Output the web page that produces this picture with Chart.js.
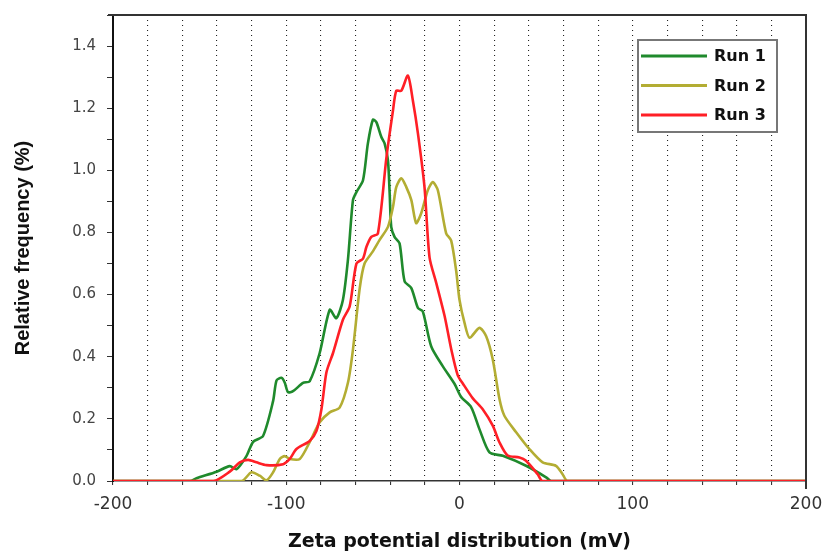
<!DOCTYPE html>
<html>
<head>
<meta charset="utf-8">
<script src="https://cdn.jsdelivr.net/npm/chart.js@4.4.0/dist/chart.umd.min.js"></script>
<style>
  html, body { margin: 0; padding: 0; background: #fff; overflow: hidden; }
  #zeta { display: block; }
</style>
</head>
<body>
<canvas id="zeta" width="822" height="551"></canvas>
<script>
// zeta potential (mV) / relative frequency (%)
const run1X = [-200, -155.6, -151.8, -140.2, -132.6, -128.7, -122.9, -119.1, -113.4, -107.6, -105.6, -102.8, -100.9, -99.0, -96.1, -90.3, -86.5, -80.7, -74.9, -71.1, -67.3, -64.4, -61.5, -59.5, -55.7, -52.9, -50.0, -48.0, -45.1, -43.2, -41.3, -40.3, -39.4, -37.5, -34.6, -31.7, -27.8, -24.0, -21.2, -16.3, -9.6, -2.9, 1.0, 6.7, 11.5, 17.3, 25.0, 38.4, 50.0, 53, 200];
const run1Y = [0, 0, 0.009, 0.030, 0.048, 0.038, 0.081, 0.126, 0.145, 0.257, 0.324, 0.332, 0.317, 0.286, 0.289, 0.316, 0.321, 0.412, 0.551, 0.524, 0.583, 0.712, 0.904, 0.930, 0.968, 1.086, 1.163, 1.155, 1.107, 1.086, 1.032, 0.925, 0.818, 0.786, 0.765, 0.643, 0.621, 0.557, 0.546, 0.433, 0.369, 0.313, 0.270, 0.238, 0.167, 0.092, 0.081, 0.049, 0.012, 0, 0];

const run2X = [-200, -125.8, -120.1, -115.3, -111.4, -107.6, -103.7, -100.9, -98.0, -92.2, -86.5, -80.7, -74.9, -69.2, -64.4, -61.5, -57.6, -54.8, -50.0, -46.1, -41.3, -38.4, -36.5, -33.6, -30.7, -27.8, -25.0, -22.1, -18.3, -15.4, -12.5, -7.7, -4.8, -1.9, 0, 2.9, 5.8, 11.5, 15.4, 19.2, 23.1, 25.9, 32.7, 40.3, 48.0, 55.7, 59.5, 62.4, 200];
const run2Y = [0, 0, 0.028, 0.017, 0.002, 0.028, 0.071, 0.080, 0.071, 0.071, 0.125, 0.189, 0.221, 0.236, 0.316, 0.423, 0.62, 0.700, 0.739, 0.776, 0.818, 0.882, 0.946, 0.974, 0.946, 0.904, 0.830, 0.862, 0.936, 0.962, 0.936, 0.797, 0.774, 0.676, 0.583, 0.509, 0.461, 0.493, 0.466, 0.391, 0.263, 0.210, 0.157, 0.103, 0.060, 0.049, 0.022, 0, 0];

const run3X = [-200, -142, -132.6, -126.8, -122.0, -117.2, -111.4, -101.8, -98.0, -94.1, -86.5, -82.6, -79.7, -76.8, -73.0, -67.3, -63.4, -59.5, -55.7, -53.7, -50.9, -47.1, -42.2, -38.4, -36.5, -33.6, -29.8, -26.9, -24.0, -20.2, -17.3, -13.4, -8.6, -4.8, -1.0, 1.9, 7.7, 13.4, 19.2, 23.1, 27.8, 34.6, 38.4, 45.1, 48.0, 200];
const run3Y = [0, 0, 0.030, 0.060, 0.068, 0.060, 0.051, 0.054, 0.071, 0.103, 0.129, 0.161, 0.231, 0.35, 0.412, 0.519, 0.562, 0.700, 0.716, 0.754, 0.786, 0.797, 1.04, 1.192, 1.256, 1.256, 1.305, 1.224, 1.119, 0.946, 0.72, 0.637, 0.531, 0.425, 0.340, 0.314, 0.266, 0.231, 0.178, 0.124, 0.082, 0.076, 0.065, 0.022, 0, 0];

const runNames = ["Run 1", "Run 2", "Run 3"];
const runColors = ["#1f8a2c", "#b3ad33", "#ff1f26"];
const xLabels = [-200, -100, 0, 100, 200];
const yLabels = [0.0, 0.2, 0.4, 0.6, 0.8, 1.0, 1.2, 1.4];

function toPoints(xs, ys) {
  return xs.map((x, i) => ({ x: x, y: ys[i] }));
}

// top + right frame of the plot box
const frame = {
  id: "frame",
  afterDraw(chart) {
    const { ctx, chartArea: a } = chart;
    ctx.save();
    ctx.strokeStyle = "#333";
    ctx.lineWidth = 2;
    ctx.beginPath();
    ctx.moveTo(a.left - 5, a.top);
    ctx.lineTo(a.right, a.top);
    ctx.lineTo(a.right, a.bottom + 8);
    ctx.stroke();
    ctx.restore();
  }
};

// boxed legend in the upper right
const boxLegend = {
  id: "boxLegend",
  afterDraw(chart) {
    const { ctx, chartArea: a } = chart;
    const left = a.right - 168, top = a.top + 25, w = 139, h = 92;
    ctx.save();
    ctx.fillStyle = "#fff";
    ctx.fillRect(left, top, w, h);
    ctx.strokeStyle = "#777";
    ctx.lineWidth = 2;
    ctx.strokeRect(left, top, w, h);
    ctx.font = "bold 16px 'DejaVu Sans', sans-serif";
    ctx.textBaseline = "middle";
    chart.data.datasets.forEach((ds, i) => {
      const y = top + 16 + i * 29.5;
      ctx.strokeStyle = ds.borderColor;
      ctx.lineWidth = 3;
      ctx.beginPath();
      ctx.moveTo(left + 3, y);
      ctx.lineTo(left + 69, y);
      ctx.stroke();
      ctx.fillStyle = "#111";
      ctx.fillText(ds.label, left + 76, y + 1);
    });
    ctx.restore();
  }
};

const ctx = document.getElementById("zeta");
new Chart(ctx, {
  type: "line",
  data: {
    datasets: [
      { label: runNames[0], data: toPoints(run1X, run1Y), borderColor: runColors[0], order: 3 },
      { label: runNames[1], data: toPoints(run2X, run2Y), borderColor: runColors[1], order: 2 },
      { label: runNames[2], data: toPoints(run3X, run3Y), borderColor: runColors[2], order: 1 }
    ]
  },
  options: {
    responsive: false,
    animation: false,
    devicePixelRatio: 1,
    layout: { padding: { top: 15, right: 16, left: 0, bottom: 0 } },
    elements: {
      point: { radius: 0 },
      line: { borderWidth: 2.6, fill: false, tension: 0.25 }
    },
    plugins: {
      legend: { display: false },
      tooltip: { enabled: false }
    },
    scales: {
      x: {
        type: "linear",
        min: -200,
        max: 200,
        afterFit: (s) => {
          s.height = 70;
          s.paddingLeft = 0;
          s.paddingRight = 0;
        },
        border: { display: true, color: "#333", width: 1.5, dash: [1, 4] },
        grid: {
          color: "#222",
          lineWidth: 1.1,
          drawTicks: true,
          tickLength: 4,
          tickColor: "#333",
          tickBorderDash: []
        },
        ticks: {
          stepSize: 20,
          autoSkip: false,
          maxRotation: 0,
          padding: 9,
          color: "#333",
          font: { family: "'DejaVu Sans', sans-serif", size: 17 },
          callback: (v) => (xLabels.includes(v) ? String(v) : "")
        },
        title: {
          display: true,
          text: "Zeta potential distribution (mV)",
          color: "#111",
          font: { family: "'DejaVu Sans', sans-serif", size: 19, weight: "bold" },
          padding: { top: 0, bottom: -2 }
        }
      },
      y: {
        min: 0,
        max: 1.5,
        afterFit: (s) => {
          s.width = 113;
          s.paddingTop = 0;
          s.paddingBottom = 0;
        },
        border: { display: true, color: "#111", width: 2 },
        grid: {
          drawOnChartArea: false,
          drawTicks: true,
          tickLength: 6,
          tickColor: "#333"
        },
        ticks: {
          stepSize: 0.1,
          autoSkip: false,
          padding: 11,
          color: "#444",
          font: { family: "'DejaVu Sans', sans-serif", size: 15 },
          callback: (v) => {
            const r = Math.round(v * 10) / 10;
            return yLabels.includes(r) ? r.toFixed(1) : "";
          }
        },
        title: {
          display: true,
          text: "Relative frequency (%)",
          color: "#111",
          font: { family: "'Liberation Sans', Arial, sans-serif", size: 20, weight: "bold" },
          padding: { top: 11, bottom: 0 }
        }
      }
    }
  },
  plugins: [frame, boxLegend]
});
</script>
</body>
</html>
